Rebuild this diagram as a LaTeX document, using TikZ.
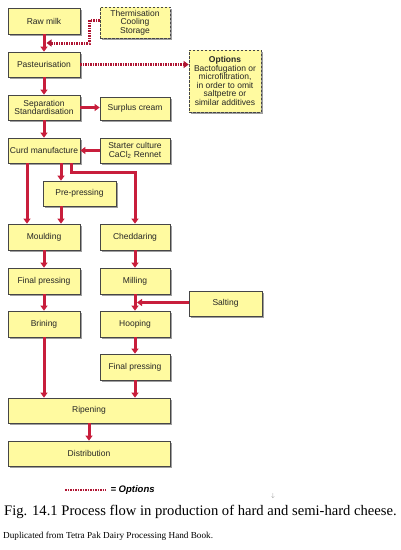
\documentclass[tikz,border=0pt]{standalone}
\usepackage{fontspec}
\setmainfont{Liberation Serif}
\setsansfont{Liberation Sans}
\usepackage{tikz}
\usetikzlibrary{arrows.meta, shadows, calc}
\definecolor{boxfill}{RGB}{255,250,160}
\definecolor{boxline}{RGB}{70,70,70}
\definecolor{flowred}{RGB}{200,30,60}
\definecolor{optred}{RGB}{175,20,50}

\tikzset{
  stepbox/.style={draw=boxline, line width=0.7pt, fill=boxfill, align=center,
    font=\sffamily\fontsize{8.5}{8.6}\selectfont, text=black!85, inner sep=1pt,
    drop shadow={shadow xshift=1.8pt, shadow yshift=-1.8pt, fill=gray!75, opacity=1}},
  optbox/.style={stepbox, dashed, dash pattern=on 2.5pt off 1.5pt},
  flow/.style={draw=flowred, line width=3pt, -{Triangle[length=5pt, width=7pt]}},
  optline/.style={draw=optred, line width=3pt, dash pattern=on 1.5pt off 1pt},
  optarrow/.style={optline, -{Triangle[length=5pt, width=7pt]}}
}

\begin{document}
\begin{tikzpicture}[x=1pt, y=-1pt]
    \useasboundingbox (0,0) rectangle (400,550);

    % Process steps
    \node[stepbox, minimum width=72pt, minimum height=26pt] (raw) at (44,21) {Raw milk};
    \node[optbox, minimum width=70pt, minimum height=31pt] (therm) at (135,22.5) {Thermisation\\Cooling\\Storage};
    \node[stepbox, minimum width=72pt, minimum height=25pt] (past) at (44,64.5) {Pasteurisation};
    \node[optbox, minimum width=72pt, minimum height=62pt] (opts) at (225,81) {\textbf{Options}\\Bactofugation or\\microfiltration,\\in order to omit\\saltpetre or\\similar additives};
    \node[stepbox, minimum width=72pt, minimum height=25pt] (sep) at (44,107.5) {Separation\\Standardisation};
    \node[stepbox, minimum width=70pt, minimum height=23pt] (surplus) at (135,108.5) {Surplus cream};
    \node[stepbox, minimum width=72pt, minimum height=25pt] (curd) at (44,150.5) {Curd manufacture};
    \node[stepbox, minimum width=70pt, minimum height=25pt] (starter) at (135,150.5) {Starter culture\\CaCl\textsubscript{2} Rennet};
    \node[stepbox, minimum width=73pt, minimum height=25pt] (prep) at (79.5,193.5) {Pre-pressing};
    \node[stepbox, minimum width=72pt, minimum height=26pt] (mould) at (44,237) {Moulding};
    \node[stepbox, minimum width=70pt, minimum height=26pt] (chedd) at (135,237) {Cheddaring};
    \node[stepbox, minimum width=72pt, minimum height=26pt] (fpl) at (44,281) {Final pressing};
    \node[stepbox, minimum width=70pt, minimum height=26pt] (mill) at (135,281) {Milling};
    \node[stepbox, minimum width=73pt, minimum height=25pt] (salt) at (225.5,303.5) {Salting};
    \node[stepbox, minimum width=72pt, minimum height=26pt] (brin) at (44,324) {Brining};
    \node[stepbox, minimum width=70pt, minimum height=26pt] (hoop) at (135,324) {Hooping};
    \node[stepbox, minimum width=70pt, minimum height=26pt] (fpr) at (135,367) {Final pressing};
    \node[stepbox, minimum width=162pt, minimum height=25pt] (ripe) at (89,410.5) {Ripening};
    \node[stepbox, minimum width=162pt, minimum height=25pt] (dist) at (89,453.5) {Distribution};

    % Main flow
    \foreach \a/\b in {raw/past, past/sep, sep/curd, mould/fpl, fpl/brin, chedd/mill, mill/hoop, hoop/fpr, ripe/dist}
        \draw[flow] (\a) -- (\b);
    \draw[flow] (sep.east) -- (sep.east -| surplus.west);
    \draw[flow] (starter.west) -- (curd.east);
    \draw[flow] ([xshift=-17pt]curd.south) -- ([xshift=-17pt]mould.north);
    \draw[flow] ([xshift=17pt]curd.south) -- ([xshift=17pt]curd.south |- prep.north);
    \draw[flow] ([xshift=17pt]mould.north |- prep.south) -- ([xshift=17pt]mould.north);
    \draw[flow] ([xshift=27pt]curd.south) -- ++(0,9) -| (chedd.north);
    \coordinate (saltin) at ($(mill.south)!0.5!(hoop.north) + (2,0)$);
    \draw[flow] (salt.west |- saltin) -- (saltin);
    \draw[flow] (brin.south) -- (brin.south |- ripe.north);
    \draw[flow] (fpr.south) -- (fpr.south |- ripe.north);

    % Options
    \coordinate (thermin) at ($(raw.south)!0.5!(past.north) + (2.5,0)$);
    \draw[optarrow] ([yshift=2.5pt]therm.west) -- ++(-10,0) |- (thermin);
    \draw[optarrow] (past.east) -- (past.east -| opts.west);

    % Legend and caption
    \node[font=\sffamily\bfseries\itshape\fontsize{9.5}{10}\selectfont, anchor=west] (legtext) at (107,490) {= Options};
    \coordinate (legstart) at (65,490);
    \draw[optline, line width=2pt] (legstart) -- ([xshift=-1pt]legtext.west);
    \node[text=gray, font=\fontsize{6}{6}\selectfont] (mark) at (273,496) {$\downarrow$};
    \node[anchor=west, inner sep=0pt, font=\fontsize{14.6}{15}\selectfont] (caption) at (4,512) {Fig. 14.1 Process flow in production of hard and semi-hard cheese.};
    \node[anchor=west, inner sep=0pt, font=\fontsize{9.2}{10}\selectfont] (source) at (3,536) {Duplicated from Tetra Pak Dairy Processing Hand Book.};
\end{tikzpicture}
\end{document}
